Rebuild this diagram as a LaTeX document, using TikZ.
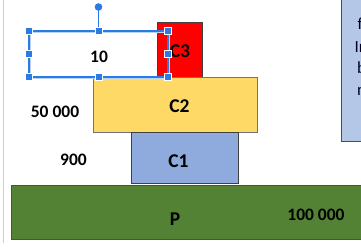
\documentclass[tikz,border=0pt]{standalone}
\usepackage{fontspec}
\setmainfont{Carlito}
\definecolor{cred}{HTML}{FF0000}
\definecolor{cyellow}{HTML}{FFD966}
\definecolor{cblue}{HTML}{8FAADC}
\definecolor{cgreen}{HTML}{548235}
\definecolor{cside}{HTML}{B4C7E7}
\definecolor{gborder}{HTML}{2F528F}
\definecolor{selblue}{HTML}{2B7BE4}
\definecolor{selhalo}{HTML}{B8D2F4}
\tikzset{
  block/.style={draw=#1, line width=0.8pt, inner sep=0pt, outer sep=0pt},
  clab/.style={font=\fontsize{19.5}{20}\selectfont\bfseries, anchor=base, inner sep=0pt},
  nlab/.style={font=\fontsize{17.5}{18}\selectfont\bfseries, anchor=base, inner sep=0pt},
  slab/.style={font=\fontsize{17}{18}\selectfont, anchor=base west, inner sep=0pt, text=black!85!blue},
  handle/.style={draw=white, line width=0.4pt, fill=selblue, minimum size=7pt, inner sep=0pt},
}
\begin{document}
\begin{tikzpicture}[x=1pt,y=-1pt]
\useasboundingbox (0,0) rectangle (361,250);
\fill[white] (0,0) rectangle (361,250);
\begin{scope}
\clip (0,0) rectangle (361,250);
% left border line
\draw[black!20, line width=1pt] (3.5,0) -- (3.5,243);
% blocks
\filldraw[block=black!75, fill=cred] (157,22) rectangle (202,77);
\filldraw[block=black!55, fill=cyellow] (93,77) rectangle (257,132);
\filldraw[block=black!75, fill=cblue] (131,132) rectangle (238,183);
\filldraw[block=gborder, fill=cgreen] (11,185) rectangle (370,239);
\filldraw[block=black!70, fill=cside] (341,-5) rectangle (370,141);
% labels
\node[clab] (lc3) at (180,57) {C3};
\node[clab] (lc2) at (179.5,112) {C2};
\node[clab] (lc1) at (178.5,167) {C1};
\node[clab] (lp) at (175,225) {P};
\node[nlab] (n5) at (55,117) {50 000};
\node[nlab] (n9) at (73.5,165) {900};
\node[nlab] (n1) at (316,220) {100 000};
\node[nlab] (n10) at (99,62) {10};
\node[slab] (s1) at (357.5,29.5) {f};
\node[slab] (s2) at (354.5,52) {In};
\node[slab] (s3) at (357,73) {b};
\node[slab] (s4) at (357,95) {n};
% selection frame
\draw[selhalo, line width=3pt] (29,31) rectangle (168,77);
\draw[selblue, line width=1.2pt] (29,31) rectangle (168,77);
\coordinate (rot) at (98.5,7);
\node[handle] (htm) at (98.5,31) {};
\draw[selblue, line width=1.2pt] (rot) -- (htm.north);
\fill[selblue] (rot) circle (3.8pt);
\node[handle] (htl) at (29,31) {};
\node[handle] (htr) at (168,31) {};
\node[handle] (hml) at (29,54) {};
\node[handle] (hmr) at (168,54) {};
\node[handle] (hbl) at (29,77) {};
\node[handle] (hbm) at (98.5,77) {};
\node[handle] (hbr) at (168,77) {};
\end{scope}
\end{tikzpicture}
\end{document}
